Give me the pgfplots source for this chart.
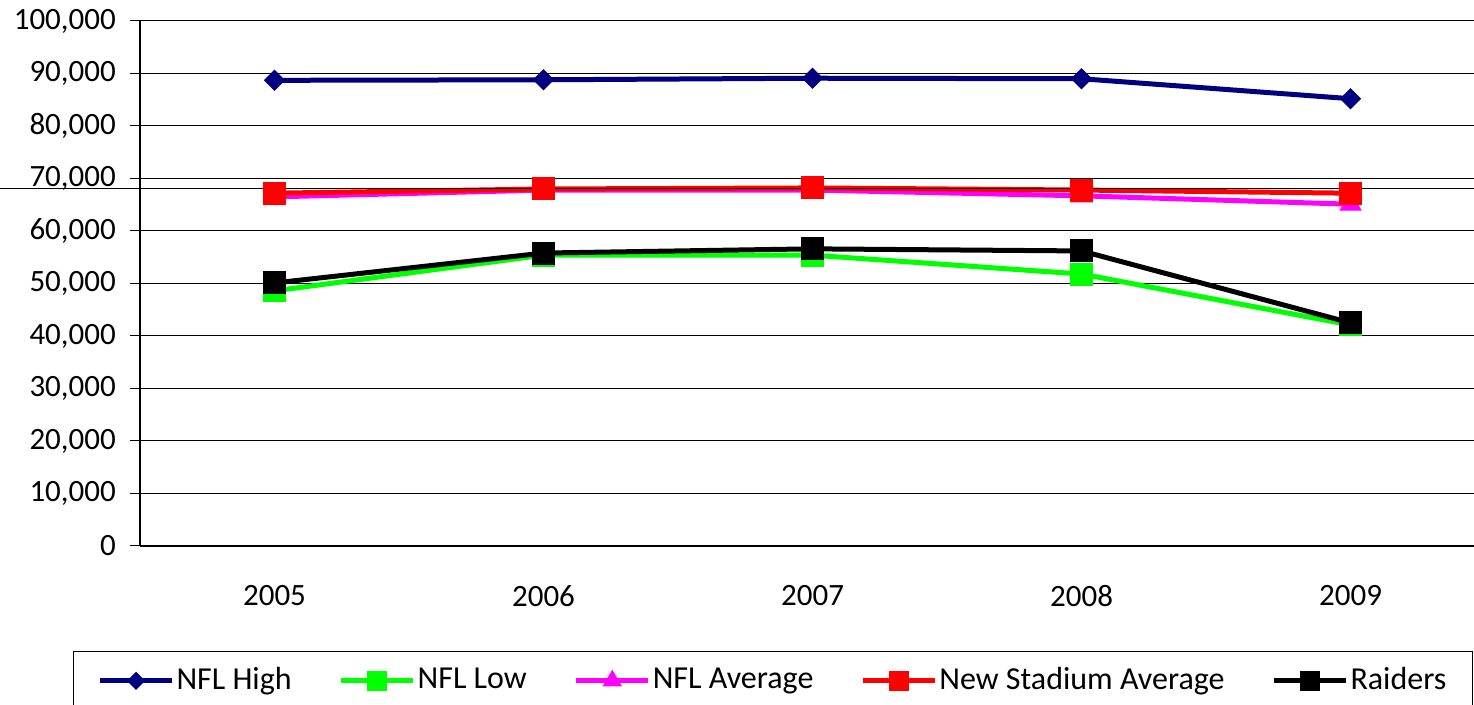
\documentclass[border=0pt]{standalone}
\usepackage{pgfplots}
\pgfplotsset{compat=1.18}
\usepackage{fontspec}
\setmainfont{Carlito}
\definecolor{nflhigh}{RGB}{0,0,128}
\definecolor{nfllow}{RGB}{0,255,0}
\definecolor{nflavg}{RGB}{255,0,255}
\definecolor{newstad}{RGB}{255,0,0}
\begin{document}
\fontsize{30bp}{36bp}\selectfont
\begin{tikzpicture}
\begin{axis}[
  name=ax,
  scale only axis,
  width=1334bp, height=525bp,
  xmin=-0.5, xmax=4.459,
  ymin=0, ymax=100000,
  clip=false,
  axis x line*=bottom, axis y line*=left,
  axis line style={black, line width=1.2bp},
  ytick={0,10000,20000,30000,40000,50000,60000,70000,80000,90000,100000},
  yticklabels={0,{10,000},{20,000},{30,000},{40,000},{50,000},{60,000},{70,000},{80,000},{90,000},{100,000}},
  ymajorgrids,
  grid style={black, line width=1bp},
  scaled y ticks=false,
  yticklabel style={xshift=-4bp},
  xtick={0,1,2,3,4},
  xticklabels={2005,2006,2007,2008,2009},
  major tick length=10bp,
  tick align=outside,
  tick style={black, line width=1bp},
  x tick style={draw=none},
  extra x ticks={-0.5,0.5,1.5,2.5,3.5},
  extra x tick labels={},
  extra x tick style={tick style={draw=black, line width=1bp}, major tick length=10bp},
  every tick label/.append style={font=\fontsize{31bp}{37bp}\selectfont},
  xticklabel style={yshift=-19bp},
  legend columns=5,
  legend style={at={(axis description cs:-0.0502,-0.2)}, anchor=north west,
    draw=black, line width=1bp, font=\fontsize{32bp}{38bp}\selectfont,
    inner xsep=24bp, inner ysep=14bp,
    /tikz/every even column/.append style={column sep=45bp}},
  legend image code/.code={\draw[mark repeat=2,mark phase=2,mark size=0.85*\pgfplotmarksize] plot coordinates {(0bp,0bp)(36bp,0bp)(72bp,0bp)};},
  every axis plot/.append style={line width=5bp},
]
\addplot[color=nflhigh, mark=square*, mark size=7bp, mark options={rotate=45, line width=1bp}]
  coordinates {(0,88700) (1,88800) (2,89100) (3,89000) (4,85200)};
\addlegendentry{NFL High}
\addplot[color=nfllow, mark=square*, mark size=11bp, mark options={line width=1bp}]
  coordinates {(0,48600) (1,55400) (2,55400) (3,51800) (4,42100)};
\addlegendentry{NFL Low}
\addplot[color=nflavg, mark=triangle*, mark size=12bp, mark options={line width=1bp}]
  coordinates {(0,66500) (1,67800) (2,67800) (3,66700) (4,65100)};
\addlegendentry{NFL Average}
\addplot[color=newstad, mark=square*, mark size=11bp, mark options={line width=1bp}]
  coordinates {(0,67200) (1,68000) (2,68200) (3,67800) (4,67200)};
\addlegendentry{New Stadium Average}
\addplot[color=black, mark=square*, mark size=11bp, mark options={line width=1bp}]
  coordinates {(0,50100) (1,55800) (2,56600) (3,56200) (4,42500)};
\addlegendentry{Raiders}
\addplot[black, line width=1.2bp, forget plot, mark=none]
  coordinates {(-1.03,68100) (4.459,68100)};
\end{axis}
\pgfresetboundingbox
\path[use as bounding box] ([xshift=-140bp,yshift=-159bp]ax.south west) rectangle ([yshift=21bp]ax.north east);
\end{tikzpicture}
\end{document}
